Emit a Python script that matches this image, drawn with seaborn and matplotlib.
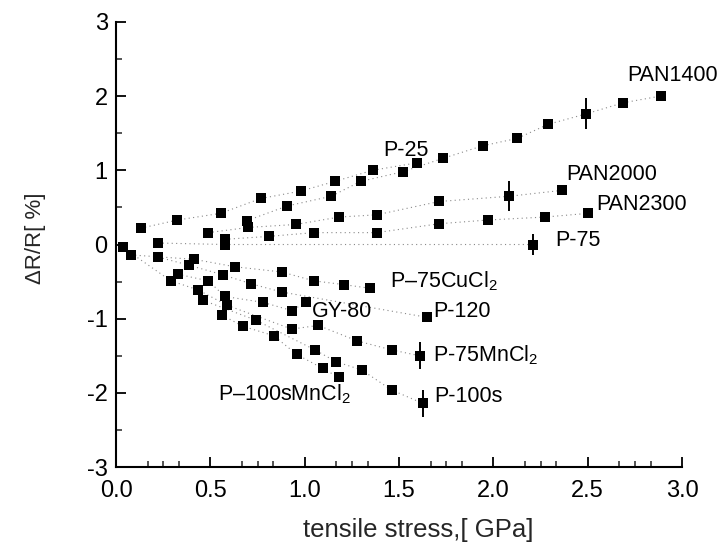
import numpy as np
import pandas as pd
import matplotlib
matplotlib.use("Agg")
import matplotlib.pyplot as plt
import seaborn as sns

# ---- measured data: tensile stress [GPa] vs relative resistance change [%] ----
pan1400_x = [0.692, 0.908, 1.140, 1.296, 1.519, 1.731, 1.943, 2.126, 2.291, 2.491, 2.688, 2.886]
pan1400_y = [0.32, 0.52, 0.65, 0.85, 0.98, 1.16, 1.33, 1.43, 1.62, 1.76, 1.91, 2.00]
pan1400_err = [0, 0, 0, 0, 0, 0, 0, 0, 0, 0.21, 0, 0]

p25_x = [0.131, 0.325, 0.554, 0.767, 0.979, 1.159, 1.360, 1.593]
p25_y = [0.22, 0.33, 0.42, 0.62, 0.72, 0.85, 1.00, 1.10]
p25_err = [0, 0, 0, 0, 0, 0, 0, 0]

pan2000_x = [0.489, 0.701, 0.952, 1.183, 1.381, 1.713, 2.084, 2.365]
pan2000_y = [0.16, 0.23, 0.27, 0.37, 0.40, 0.58, 0.65, 0.73]
pan2000_err = [0, 0, 0, 0, 0, 0, 0.20, 0]

pan2300_x = [0.577, 0.811, 1.049, 1.381, 1.713, 1.969, 2.273, 2.503]
pan2300_y = [0.07, 0.11, 0.16, 0.16, 0.28, 0.33, 0.37, 0.42]
pan2300_err = [0, 0, 0, 0, 0, 0, 0, 0]

p75_x = [0.224, 0.577, 2.208]
p75_y = [0.02, 0.00, 0.00]
p75_err = [0, 0, 0.14]

p75cucl2_x = [0.078, 0.415, 0.630, 0.877, 1.049, 1.206, 1.346]
p75cucl2_y = [-0.14, -0.20, -0.30, -0.37, -0.49, -0.54, -0.59]
p75cucl2_err = [0, 0, 0, 0, 0, 0, 0]

p120_x = [0.224, 0.388, 0.568, 0.717, 0.877, 1.646]
p120_y = [-0.17, -0.28, -0.41, -0.53, -0.64, -0.98]
p120_err = [0, 0, 0, 0, 0, 0]

gy80_x = [0.327, 0.489, 0.577, 0.779, 0.931, 1.005]
gy80_y = [-0.40, -0.49, -0.70, -0.78, -0.89, -0.78]
gy80_err = [0, 0, 0, 0, 0, 0]

p75mncl2_x = [0.036, 0.291, 0.433, 0.590, 0.931, 1.071, 1.279, 1.460, 1.611]
p75mncl2_y = [-0.04, -0.49, -0.61, -0.82, -1.14, -1.09, -1.30, -1.42, -1.50]
p75mncl2_err = [0, 0, 0, 0, 0, 0, 0, 0, 0.18]

p100s_x = [0.459, 0.741, 1.054, 1.166, 1.302, 1.460, 1.625]
p100s_y = [-0.75, -1.02, -1.42, -1.58, -1.69, -1.96, -2.14]
p100s_err = [0, 0, 0, 0, 0, 0, 0.18]

p100smncl2_x = [0.560, 0.671, 0.836, 0.957, 1.095, 1.180]
p100smncl2_y = [-0.95, -1.10, -1.23, -1.48, -1.67, -1.79]
p100smncl2_err = [0, 0, 0, 0, 0, 0]

series_names = ["PAN1400", "P-25", "PAN2000", "PAN2300", "P-75", "P-75CuCl2",
                "P-120", "GY-80", "P-75MnCl2", "P-100s", "P-100sMnCl2"]
series_x = [pan1400_x, p25_x, pan2000_x, pan2300_x, p75_x, p75cucl2_x,
            p120_x, gy80_x, p75mncl2_x, p100s_x, p100smncl2_x]
series_y = [pan1400_y, p25_y, pan2000_y, pan2300_y, p75_y, p75cucl2_y,
            p120_y, gy80_y, p75mncl2_y, p100s_y, p100smncl2_y]
series_err = [pan1400_err, p25_err, pan2000_err, pan2300_err, p75_err, p75cucl2_err,
              p120_err, gy80_err, p75mncl2_err, p100s_err, p100smncl2_err]

# curve labels and where they sit (data coordinates, left edge / vertical centre)
label_text = ["PAN1400", "P-25", "PAN2000", "PAN2300", "P-75", "P\u201375CuCl$_2$",
              "P-120", "GY-80", "P-75MnCl$_2$", "P-100s", "P\u2013100sMnCl$_2$"]
label_x = [2.71, 1.415, 2.388, 2.547, 2.326, 1.452, 1.68, 1.037, 1.68, 1.687, 0.542]
label_y = [2.28, 1.27, 0.945, 0.545, 0.05, -0.50, -0.907, -0.907, -1.49, -2.05, -2.02]

frames = []
for name, xs, ys, es in zip(series_names, series_x, series_y, series_err):
    frames.append(pd.DataFrame({"series": name, "stress": xs, "dR": ys, "err": es}))
df = pd.concat(frames, ignore_index=True)

sns.set_theme(style="ticks")
plt.rcParams["font.family"] = ["Liberation Sans", "DejaVu Sans"]
plt.rcParams["mathtext.fontset"] = "custom"
plt.rcParams["mathtext.rm"] = "Liberation Sans"
plt.rcParams["mathtext.it"] = "Liberation Sans"

fig = plt.figure(figsize=(7.21, 5.47), dpi=100)
ax = fig.add_axes([0.161, 0.146, 0.785, 0.814])

# faint dotted connectors within each series
for name in series_names:
    sub = df[df["series"] == name]
    sns.lineplot(data=sub, x="stress", y="dR", ax=ax, sort=False, estimator=None,
                 color="#8a8a8a", linestyle=(0, (1, 3)), linewidth=0.8, legend=False)

# vertical error bars
eb = df[df["err"] > 0]
ax.errorbar(eb["stress"], eb["dR"], yerr=eb["err"], fmt="none",
            ecolor="black", elinewidth=1.4, capsize=0)

sns.scatterplot(data=df, x="stress", y="dR", ax=ax, marker="s", s=50,
                color="black", edgecolor="black", linewidth=0, legend=False, zorder=5)

for t, lx, ly in zip(label_text, label_x, label_y):
    ax.text(lx, ly, t, fontsize=15.5, va="center", ha="left", color="black")

ax.set_xlim(0, 3)
ax.set_ylim(-3, 3)
ax.set_xticks([0, 0.5, 1.0, 1.5, 2.0, 2.5, 3.0])
ax.set_xticklabels(["0.0", "0.5", "1.0", "1.5", "2.0", "2.5", "3.0"])
ax.set_yticks([-3, -2, -1, 0, 1, 2, 3])
ax.set_yticklabels(["-3", "-2", "-1", "0", "1", "2", "3"])
x_minor = [m + f for m in np.arange(0, 3.0, 0.5) for f in (1 / 6, 0.25, 1 / 3)]
ax.set_xticks(x_minor, minor=True)
ax.set_yticks(np.arange(-3, 3.01, 0.5), minor=True)
ax.tick_params(which="major", direction="in", length=7, width=1.3, labelsize=17,
               colors="black")
ax.tick_params(axis="x", which="major", pad=9)
ax.tick_params(axis="y", which="major", pad=6)
ax.tick_params(which="minor", direction="in", length=4, width=1.1)
for side in ["top", "right"]:
    ax.spines[side].set_visible(False)
for side in ["left", "bottom"]:
    ax.spines[side].set_linewidth(1.5)
    ax.spines[side].set_color("black")

ax.set_xlabel("tensile stress,[ GPa]", fontsize=18.5, va="center")
ax.xaxis.set_label_coords(0.533, -0.142)
ax.set_ylabel("\u0394R/R[ %]", fontsize=16, va="center")
ax.yaxis.set_label_coords(-0.143, 0.515)

fig.savefig("out.png", dpi=100)
